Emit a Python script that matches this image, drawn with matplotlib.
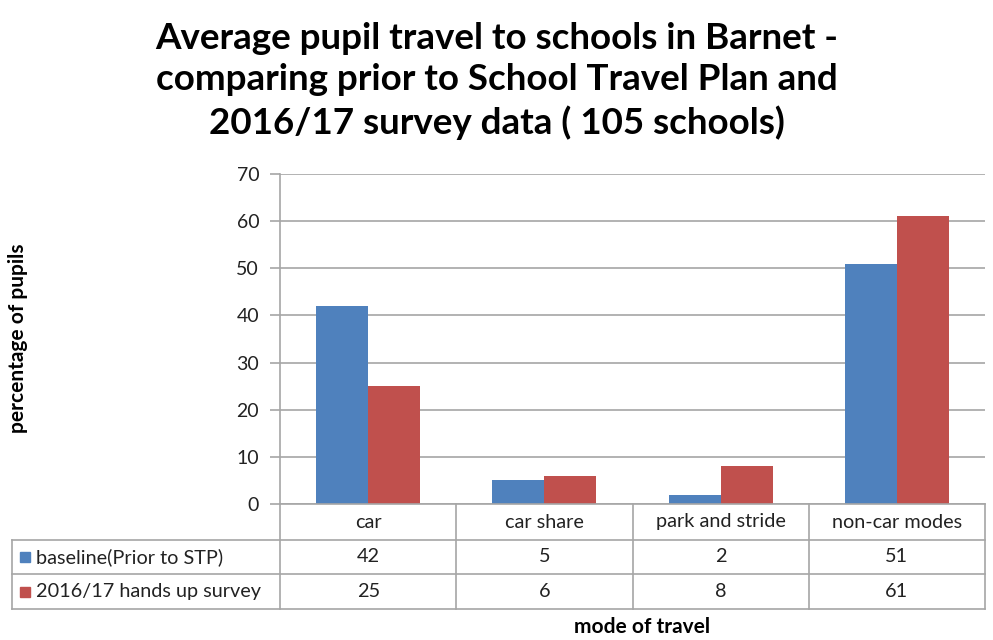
import numpy as np
import matplotlib.pyplot as plt
from matplotlib.lines import Line2D
from matplotlib.patches import Rectangle

plt.rcParams['font.family'] = ['Lato', 'DejaVu Sans']

# travel survey figures, percent of pupils
modes = ['car', 'car share', 'park and stride', 'non-car modes']
baseline = [42, 5, 2, 51]
survey_1617 = [25, 6, 8, 61]
series_names = ['baseline(Prior to STP)', '2016/17 hands up survey']
colours = ['#4F81BD', '#C0504D']
yticks = [0, 10, 20, 30, 40, 50, 60, 70]

W, H = 993, 640
fig = plt.figure(figsize=(W / 100, H / 100), dpi=100)

# plot area in pixels
px_left, px_right, px_top, px_bottom = 280, 985, 174, 504
ax = fig.add_axes([px_left / W, 1 - px_bottom / H,
                   (px_right - px_left) / W, (px_bottom - px_top) / H])

grid_col = '#A6A6A6'
x = np.arange(len(modes))
w = 0.295
ax.bar(x - w / 2, baseline, w, color=colours[0], zorder=3)
ax.bar(x + w / 2, survey_1617, w, color=colours[1], zorder=3)

ax.set_xlim(-0.5, len(modes) - 0.5)
ax.set_ylim(0, 70)
ax.set_yticks(yticks)
ax.yaxis.grid(True, color=grid_col, linewidth=1.2)
ax.set_axisbelow(True)
ax.set_xticks([])
for s in ['top', 'right', 'bottom']:
    ax.spines[s].set_visible(False)
ax.spines['left'].set_color(grid_col)
ax.spines['left'].set_linewidth(1.2)
ax.tick_params(axis='y', length=7, width=1.2, color=grid_col,
               labelsize=14, pad=8, labelcolor='#222222')

# data table beneath the bars, drawn in pixel coordinates
tab = fig.add_axes([0, 0, 1, 1], zorder=5)
tab.set_xlim(0, W)
tab.set_ylim(H, 0)
tab.axis('off')

row_y = [504, 540, 574, 609]
tab_left = 12
col_w = (px_right - px_left) / len(modes)
col_x = [px_left + k * col_w for k in range(len(modes) + 1)]
lc = dict(color=grid_col, linewidth=1.2)

for y in row_y:
    x0 = px_left if y == row_y[0] else tab_left
    tab.add_line(Line2D([x0, px_right], [y, y], **lc))
for cx in col_x:
    tab.add_line(Line2D([cx, cx], [row_y[0], row_y[-1]], **lc))
tab.add_line(Line2D([tab_left, tab_left], [row_y[1], row_y[-1]], **lc))

txt = dict(fontsize=14.3, color='#222222', va='center', ha='center')
for i, m in enumerate(modes):
    cx = (col_x[i] + col_x[i + 1]) / 2
    tab.text(cx, (row_y[0] + row_y[1]) / 2, m, **txt)
    for r, vals in enumerate([baseline, survey_1617]):
        tab.text(cx, (row_y[r + 1] + row_y[r + 2]) / 2, str(vals[i]), **txt)

for r, name in enumerate(series_names):
    yc = (row_y[r + 1] + row_y[r + 2]) / 2
    tab.add_patch(Rectangle((20, yc - 5), 10, 10, color=colours[r]))
    tab.text(36, yc, name, fontsize=14.3, color='#222222', va='center', ha='left')

fig.text(0.5, 1 - 81 / H,
         'Average pupil travel to schools in Barnet -\n'
         'comparing prior to School Travel Plan and\n'
         '2016/17 survey data ( 105 schools)',
         ha='center', va='center', fontsize=26.5, fontweight='bold',
         linespacing=1.32)
fig.text(18 / W, 1 - 338 / H, 'percentage of pupils', rotation=90,
         ha='center', va='center', fontsize=15, fontweight='bold')
fig.text(642 / W, 1 - 627 / H, 'mode of travel', ha='center', va='center',
         fontsize=15, fontweight='bold')

fig.savefig('out.png', dpi=100)
